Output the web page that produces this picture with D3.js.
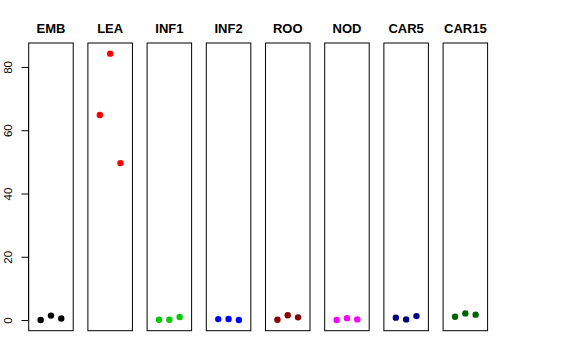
<!DOCTYPE html>
<html>
<meta charset="utf-8">
<head>
<title>tissue panels</title>
	<script src="https://d3js.org/d3.v7.min.js"></script>
	<style>
		body { margin: 0; background: white; }
		text { font-family: "Liberation Sans", Arial, sans-serif; }
	</style>
</head>

<body>
	<div id="plot"></div>
</body>

<script>

// tissues, one panel each, three replicates per panel
var tissues = ["EMB", "LEA", "INF1", "INF2", "ROO", "NOD", "CAR5", "CAR15"];
var colors = ["#000000", "#FF0000", "#00CD00", "#0000FF", "#8B0000", "#FF00FF", "#000080", "#006400"];
var rep1 = [0.0, 64.8, 0.1, 0.3, 0.1, 0.0, 0.75, 1.05];
var rep2 = [1.4, 84.2, 0.1, 0.35, 1.5, 0.6, 0.2, 2.1];
var rep3 = [0.5, 49.6, 0.95, 0.0, 0.85, 0.2, 1.25, 1.7];
var yTicks = [0, 20, 40, 60, 80];

var width = 576, height = 360;

var svg = d3.select("#plot").append("svg")
		.attr("width", width)
		.attr("height", height);

// panels across the page
var panel = d3.scaleBand()
		.domain(tissues)
		.range([28.7, 487.6])
		.paddingInner(0.248)
		.paddingOuter(0);

// R style 4% extension of the data range
var all = rep1.concat(rep2, rep3);
var ext = d3.extent(all);
var pad = (ext[1] - ext[0]) * 0.04;
var yScale = d3.scaleLinear()
		.domain([ext[0] - pad, ext[1] + pad])
		.range([330.7, 43]);

var xScale = d3.scaleLinear()
		.domain([-0.16, 4.16])
		.range([0, panel.bandwidth()]);

var yAxis = d3.axisLeft(yScale).tickValues(yTicks).tickSize(7).tickPadding(4);

var ax = svg.append("g")
	.attr("transform", "translate(28.5,0)")
	.call(yAxis);
ax.select(".domain").attr("d", "M0," + yScale(0) + "V" + yScale(80)).attr("stroke", "black");
ax.selectAll(".tick line").attr("stroke", "black");
ax.selectAll(".tick text")
	.attr("font-size", 11.5)
	.attr("fill", "black")
	.attr("text-anchor", "middle")
	.attr("transform", "rotate(-90)")
	.attr("x", 0)
	.attr("y", -17)
	.attr("dy", "0");

var panels = svg.selectAll(".panel")
	.data(tissues)
	.enter()
	.append("g")
	.attr("class", "panel")
	.attr("transform", function(d){ return "translate(" + panel(d) + ",0)"; });

panels.append("rect")
	.attr("x", 0)
	.attr("y", yScale.range()[1])
	.attr("width", panel.bandwidth())
	.attr("height", yScale.range()[0] - yScale.range()[1])
	.attr("fill", "none")
	.attr("stroke", "black")
	.attr("stroke-width", 1);

panels.append("text")
	.attr("x", panel.bandwidth() / 2)
	.attr("y", 33)
	.attr("text-anchor", "middle")
	.attr("font-size", 13)
	.attr("font-weight", "bold")
	.text(function(d){ return d; });

panels.selectAll(".dot")
	.data(function(d, i){
		return [rep1[i], rep2[i], rep3[i]].map(function(v, j){ return {x: j + 1, y: v, c: colors[i]}; });
	})
	.enter()
	.append("circle")
	.attr("class", "dot")
	.attr("r", 3.2)
	.attr("cx", function(d){ return xScale(d.x); })
	.attr("cy", function(d){ return yScale(d.y); })
	.attr("fill", function(d){ return d.c; });

</script>
</html>
